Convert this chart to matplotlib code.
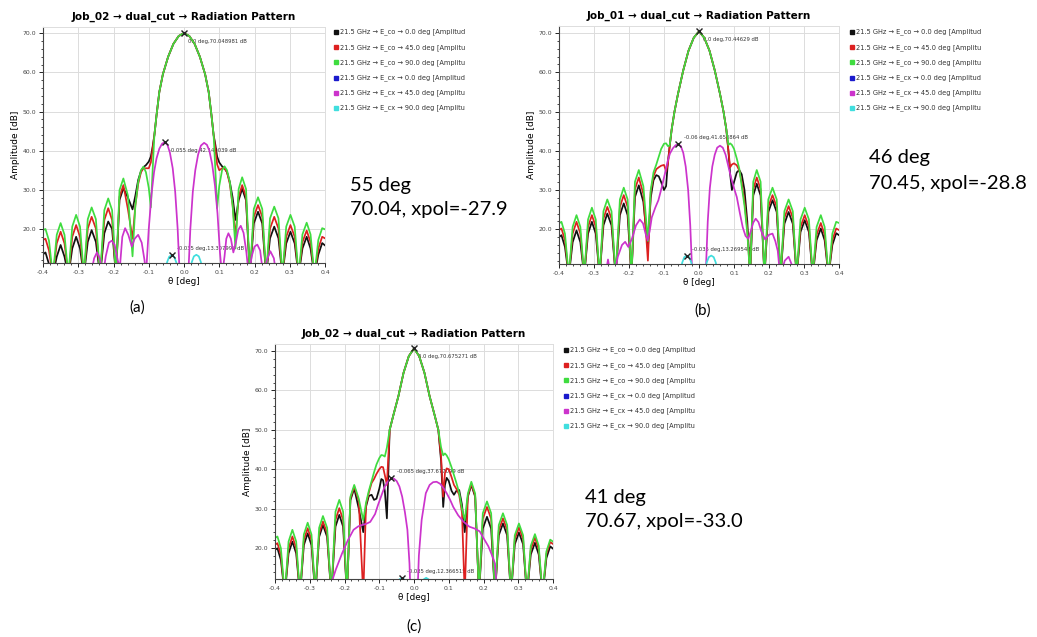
import matplotlib
matplotlib.use("Agg")
import matplotlib.pyplot as plt
from matplotlib.lines import Line2D
from matplotlib.ticker import MultipleLocator, FormatStrFormatter

W, H = 1037, 637

# ---- co-polar cuts: one theta grid [deg], amplitude [dB] per job ----
theta_co = [-0.400, -0.393, -0.383, -0.372, -0.361, -0.350, -0.339, -0.328, -0.317, -0.306,
            -0.295, -0.284, -0.273, -0.262, -0.250, -0.238, -0.226, -0.215, -0.204, -0.193,
            -0.183, -0.172, -0.159, -0.146,
            -0.138, -0.130, -0.122, -0.115, -0.108, -0.100, -0.094, -0.089, -0.084, -0.078,
            -0.070, -0.060, -0.045, -0.030, -0.015,
            0.000,
            0.015, 0.030, 0.045, 0.060, 0.070, 0.078, 0.084, 0.089, 0.094, 0.100,
            0.108, 0.115, 0.122, 0.130, 0.138,
            0.146, 0.155, 0.165, 0.176, 0.187, 0.198, 0.210, 0.222, 0.233, 0.244,
            0.256, 0.268, 0.279, 0.290, 0.302, 0.314, 0.325, 0.336, 0.348, 0.359,
            0.370, 0.381, 0.392, 0.400]

# (a) 55 deg
a_co_0 = [13.5, 14.0, 11.0, 8, 12.9, 15.9, 12.9, 8, 15.0, 18.0,
          15.0, 8, 16.7, 19.7, 16.7, 8, 18.9, 21.9, 20.0, 8,
          27.4, 30.4, 28.0, 25.0,
          28.5, 32.5, 34.8, 35.8, 36.3, 37.2, 38.5, 41.0, 44.0, 49.0,
          55.0, 59.5, 64.0, 67.3, 69.3,
          70.05,
          69.3, 67.3, 64.0, 59.5, 55.0, 49.0, 44.0, 41.5, 38.5, 37.0,
          36.0, 35.5, 34.5, 32.0, 28.0,
          22.3, 27.3, 30.3, 27.3, 8, 21.4, 24.4, 21.4, 8, 17.6,
          20.6, 17.6, 8, 16.3, 19.3, 16.3, 8, 15.0, 18.0, 15.0,
          8, 13.4, 16.4, 15.8]
a_co_45 = [17.2, 17.5, 14.5, 8, 16.3, 19.3, 16.3, 8, 18.0, 21.0,
           18.0, 8, 20.1, 23.1, 20.1, 8, 22.3, 25.3, 22.3, 8,
           28.2, 31.2, 25.0, 17.5,
           26.0, 31.5, 34.5, 35.5, 35.5, 35.5, 37.0, 40.5, 44.0, 49.0,
           55.0, 59.5, 64.0, 67.3, 69.3,
           70.05,
           69.3, 67.3, 64.0, 59.5, 55.0, 49.0, 44.0, 40.5, 36.5, 35.0,
           35.5, 35.5, 34.5, 31.5, 26.0,
           18.0, 28.2, 31.2, 28.2, 8, 23.1, 26.1, 23.1, 8, 20.1,
           23.1, 20.1, 8, 18.0, 21.0, 18.0, 8, 16.6, 19.6, 16.6,
           8, 15.0, 18.0, 17.6]
a_co_90 = [19.7, 20.0, 17.0, 8, 18.5, 21.5, 18.5, 8, 20.6, 23.6,
           20.6, 8, 22.5, 25.5, 22.5, 8, 24.8, 27.8, 24.8, 8,
           29.9, 32.9, 28.5, 13.0,
           26.0, 32.0, 35.0, 35.9, 34.5, 30.5, 25.5, 35.0, 44.0, 49.0,
           55.0, 59.5, 64.0, 67.3, 69.3,
           70.05,
           69.3, 67.3, 64.0, 59.5, 55.0, 49.0, 44.0, 35.0, 25.3, 31.0,
           35.0, 36.0, 35.0, 32.0, 26.0,
           15.0, 30.2, 33.2, 30.2, 8, 25.1, 28.1, 25.1, 8, 22.7,
           25.7, 22.7, 8, 20.6, 23.6, 20.6, 8, 18.6, 21.6, 18.6,
           8, 17.2, 20.2, 19.9]

# (b) 46 deg
b_co_0 = [18.0, 18.5, 15.5, 8, 16.7, 19.7, 16.7, 8, 18.9, 21.9,
          18.9, 8, 21.0, 24.0, 21.0, 8, 23.6, 26.6, 23.6, 8,
          28.2, 31.2, 27.0, 15.0,
          28.0, 32.5, 33.8, 33.5, 32.0, 30.0, 31.0, 37.0, 41.0, 45.5,
          50.0, 54.5, 60.5, 65.5, 68.8,
          70.45,
          68.8, 65.5, 60.5, 54.5, 50.0, 45.5, 40.0, 34.0, 30.0, 32.0,
          34.5, 35.1, 34.0, 30.0, 22.0,
          8, 28.6, 31.6, 28.6, 8, 24.4, 27.4, 24.4, 8, 21.4,
          24.4, 21.4, 8, 19.3, 22.3, 19.3, 8, 17.2, 20.2, 17.2,
          8, 16.0, 19.0, 18.5]
b_co_45 = [19.8, 20.2, 17.2, 8, 18.9, 21.9, 18.9, 8, 20.6, 23.6,
           20.6, 8, 22.7, 25.7, 22.7, 8, 25.7, 28.7, 25.7, 8,
           30.2, 33.2, 29.0, 12.0,
           29.5, 33.5, 35.3, 35.8, 36.2, 36.4, 34.8, 36.5, 41.0, 45.5,
           50.0, 54.5, 60.5, 65.5, 68.8,
           70.45,
           68.8, 65.5, 60.5, 54.5, 50.0, 45.5, 40.0, 35.8, 36.5, 36.8,
           36.3, 35.0, 32.0, 27.0, 20.0,
           8, 30.2, 33.2, 30.2, 8, 25.7, 28.7, 25.7, 8, 22.9,
           25.9, 22.9, 8, 20.6, 23.6, 20.6, 8, 18.6, 21.6, 18.6,
           8, 17.2, 20.2, 19.8]
b_co_90 = [21.5, 21.9, 18.9, 8, 20.6, 23.6, 20.6, 8, 22.5, 25.5,
           22.5, 8, 24.6, 27.6, 24.6, 8, 27.6, 30.6, 27.6, 8,
           32.1, 35.1, 31.0, 17.0,
           30.0, 34.5, 36.5, 38.5, 40.5, 41.8, 41.9, 41.2, 41.3, 45.5,
           50.0, 54.5, 60.5, 65.5, 68.8,
           70.45,
           68.8, 65.5, 60.5, 54.5, 50.0, 45.5, 41.5, 41.9, 41.5, 40.5,
           38.0, 35.5, 31.0, 26.0, 19.0,
           8, 32.1, 35.1, 32.1, 8, 27.6, 30.6, 27.6, 8, 24.6,
           27.6, 24.6, 8, 22.5, 25.5, 22.5, 8, 20.6, 23.6, 20.6,
           8, 18.9, 21.9, 21.6]

# (c) 41 deg
c_co_0 = [19.5, 19.9, 16.9, 8, 18.6, 21.6, 18.6, 8, 20.7, 23.7,
          20.7, 8, 22.8, 25.8, 22.8, 8, 25.4, 28.4, 25.4, 8,
          32.1, 35.1, 30.0, 24.0,
          30.5, 33.2, 33.5, 32.2, 32.5, 35.0, 37.5, 37.2, 34.5, 27.5,
          50.0, 53.5, 58.5, 64.5, 68.7,
          70.68,
          68.7, 64.5, 58.5, 53.5, 50.0, 42.0, 30.4, 36.0, 37.8, 37.0,
          34.5, 33.5, 34.5, 34.7, 31.0,
          24.0, 33.0, 36.0, 33.0, 8, 24.9, 27.9, 24.9, 8, 23.2,
          26.2, 23.2, 8, 20.9, 23.9, 20.9, 8, 18.3, 21.3, 18.3,
          8, 17.4, 20.4, 19.8]
c_co_45 = [20.8, 21.2, 18.2, 8, 19.9, 22.9, 19.9, 8, 22.0, 25.0,
           22.0, 8, 23.7, 26.7, 23.7, 8, 27.1, 30.1, 27.1, 8,
           32.6, 35.6, 32.0, 8,
           31.0, 34.0, 36.5, 37.5, 38.8, 40.0, 40.6, 40.5, 38.5, 36.0,
           50.0, 53.5, 58.5, 64.5, 68.7,
           70.68,
           68.7, 64.5, 58.5, 53.5, 50.0, 43.0, 33.0, 39.0, 40.2, 40.0,
           38.0, 36.0, 35.0, 33.5, 29.0,
           8, 33.3, 36.3, 33.3, 8, 27.4, 30.4, 27.4, 8, 24.5,
           27.5, 24.5, 8, 22.2, 25.2, 22.2, 8, 19.6, 22.6, 19.6,
           8, 18.5, 21.5, 21.0]
c_co_90 = [22.5, 22.9, 19.9, 8, 21.6, 24.6, 21.6, 8, 23.4, 26.4,
           23.4, 8, 25.1, 28.1, 25.1, 8, 29.2, 32.2, 29.2, 8,
           33.0, 36.0, 32.5, 27.0,
           31.5, 34.5, 37.0, 39.2, 41.2, 42.8, 43.6, 43.5, 43.2, 45.5,
           50.0, 53.5, 58.5, 64.5, 68.7,
           70.68,
           68.7, 64.5, 58.5, 53.5, 50.0, 45.5, 43.5, 44.0, 43.5, 42.5,
           40.5, 38.5, 36.5, 34.0, 30.0,
           27.0, 33.8, 36.8, 33.8, 8, 28.8, 31.8, 28.8, 8, 25.8,
           28.8, 25.8, 8, 23.2, 26.2, 23.2, 8, 20.5, 23.5, 20.5,
           8, 19.1, 22.1, 21.6]

# ---- cross-polar cut, 45 deg ----
a_cx_theta = [-0.265, -0.255, -0.247, -0.239, -0.230, -0.222, -0.213, -0.205, -0.197, -0.188,
              -0.182, -0.175, -0.167, -0.158, -0.148, -0.140, -0.130, -0.120, -0.112, -0.108,
              -0.100, -0.092, -0.085, -0.078, -0.070, -0.062, -0.055, -0.047, -0.040, -0.032,
              -0.025, -0.018, -0.012, 0.000, 0.012, 0.018, 0.025, 0.032, 0.040, 0.048,
              0.057, 0.065, 0.072, 0.080, 0.088, 0.095, 0.102, 0.108, 0.115, 0.120,
              0.126, 0.133, 0.140, 0.147, 0.154, 0.161, 0.169, 0.177, 0.184, 0.192,
              0.200, 0.208, 0.216, 0.225, 0.235, 0.245, 0.255, 0.262]
a_cx_45 = [8, 12.5, 14, 12.5, 8, 13, 16.5, 17, 16, 12,
           10, 18, 20.2, 18.5, 15.5, 17.5, 18.5, 16.5, 12, 8,
           20, 29, 34.5, 38, 40.5, 41.8, 42.15, 41.5, 39.5, 35.5,
           29.5, 20, 8, 5, 8, 20, 29.5, 35, 39, 41.3,
           42, 41.5, 40, 36.5, 31, 24, 14, 8, 13, 17.5,
           18.9, 17.5, 14, 16.5, 19.8, 20.8, 19, 14, 8, 13,
           15.5, 16, 14.5, 8, 12, 14.3, 12.5, 8]

b_cx_theta = [-0.268, -0.260, -0.252, -0.243, -0.232, -0.220, -0.211, -0.202, -0.192, -0.180,
              -0.169, -0.160, -0.153, -0.147, -0.141, -0.135, -0.125, -0.116, -0.107, -0.097,
              -0.090, -0.083, -0.075, -0.067, -0.060, -0.052, -0.045, -0.038, -0.031, -0.025,
              -0.019, 0.000, 0.019, 0.025, 0.031, 0.038, 0.045, 0.052, 0.060, 0.068,
              0.076, 0.084, 0.092, 0.100, 0.108, 0.117, 0.125, 0.133, 0.141, 0.148,
              0.155, 0.162, 0.170, 0.178, 0.189, 0.200, 0.210, 0.218, 0.225, 0.232,
              0.245, 0.256, 0.265, 0.272]
b_cx_45 = [8, 12.3, 8, 8, 13, 16, 16.8, 15.5, 17.5, 21,
           22.5, 21.5, 19, 17.2, 19.5, 23, 25.5, 27.4, 30.5, 34.3,
           37.2, 39.3, 40.6, 41.4, 41.65, 41.2, 39.5, 36, 30, 21,
           8, 5, 8, 22, 30.5, 36, 39, 40.8, 41.3, 40.8,
           39, 36, 33, 30.5, 28.2, 24, 20.5, 18.3, 17.6, 19.5,
           21.7, 22.7, 21.8, 19.5, 17.4, 18.6, 18.9, 17, 14.5, 8,
           12, 13, 11, 8]

c_cx_theta = [-0.240, -0.236, -0.225, -0.207, -0.190, -0.174, -0.160, -0.150, -0.138, -0.126,
              -0.112, -0.104, -0.095, -0.085, -0.076, -0.065, -0.058, -0.050, -0.042, -0.034,
              -0.026, -0.019, -0.013, -0.010, 0.000, 0.010, 0.014, 0.022, 0.034, 0.045,
              0.055, 0.065, 0.075, 0.085, 0.094, 0.104, 0.113, 0.127, 0.142, 0.159,
              0.175, 0.189, 0.200, 0.214, 0.225, 0.233, 0.240]
c_cx_45 = [8, 11.5, 14.5, 18.6, 22, 24.6, 25.5, 25.8, 26.1, 26.6,
           28.6, 30.8, 33, 35.4, 36.8, 37.68, 37.6, 37, 35.6, 33,
           29, 24.6, 16, 8, 5, 8, 18, 27.1, 33.9, 36,
           36.7, 36.8, 36.3, 35.2, 33.9, 32.2, 30.4, 28.3, 26.7, 25.4,
           24.9, 24.2, 22.5, 20.4, 18, 16, 8]

# ---- cross-polar cut, 90 deg (only the tips near boresight rise into view) ----
cx90_theta = [-0.055, -0.048, -0.042, -0.035, -0.028, -0.022, -0.015, 0.000,
              0.015, 0.022, 0.028, 0.035, 0.042, 0.048, 0.055]
a_cx_90 = [8, 11.5, 12.9, 13.31, 12.9, 11.5, 8, 5, 8, 11.5, 13.0, 13.4, 13.0, 11.5, 8]
b_cx_90 = [8, 11.5, 12.9, 13.27, 12.9, 11.5, 8, 5, 8, 11.5, 12.9, 13.3, 12.9, 11.5, 8]
c_cx_90 = [8, 10.8, 12.0, 12.37, 12.0, 10.8, 8, 5, 8, 10.8, 12.0, 12.4, 12.0, 10.8, 8]

# ---- markers placed on each plot ----
a_mark_theta = [0.0, -0.055, -0.035]
a_mark_db = [70.048981, 42.149039, 13.307994]
b_mark_theta = [0.0, -0.06, -0.035]
b_mark_db = [70.44629, 41.653864, 13.269548]
c_mark_theta = [0.0, -0.065, -0.035]
c_mark_db = [70.675271, 37.677099, 12.366515]

legend_labels = ["21.5 GHz → E_co → 0.0 deg [Amplitud",
                 "21.5 GHz → E_co → 45.0 deg [Amplitu",
                 "21.5 GHz → E_co → 90.0 deg [Amplitu",
                 "21.5 GHz → E_cx → 0.0 deg [Amplitud",
                 "21.5 GHz → E_cx → 45.0 deg [Amplitu",
                 "21.5 GHz → E_cx → 90.0 deg [Amplitu"]
colors = ["#111111", "#dd2020", "#3fdc3f", "#1a1acc", "#cc33cc", "#40dede"]

titles = ["Job_02 → dual_cut → Radiation Pattern",
          "Job_01 → dual_cut → Radiation Pattern",
          "Job_02 → dual_cut → Radiation Pattern"]
note_angle = ["55 deg", "46 deg", "41 deg"]
note_result = ["70.04, xpol=-27.9", "70.45, xpol=-28.8", "70.67, xpol=-33.0"]
tags = ["(a)", "(b)", "(c)"]

xticks = [-0.4, -0.3, -0.2, -0.1, 0.0, 0.1, 0.2, 0.3, 0.4]
yticks = [20, 30, 40, 50, 60, 70]

panels = [
    dict(rect=(43, 27, 325, 263), ylim=(11.3, 71.6),
         co=(a_co_0, a_co_45, a_co_90), cx=(a_cx_theta, a_cx_45), cx90=a_cx_90,
         marks=(a_mark_theta, a_mark_db), side=("below", "below", "above"),
         legend=(336, 32), note=(350, 185), tag=(137, 308)),
    dict(rect=(559, 26, 839, 264), ylim=(11.15, 71.8),
         co=(b_co_0, b_co_45, b_co_90), cx=(b_cx_theta, b_cx_45), cx90=b_cx_90,
         marks=(b_mark_theta, b_mark_db), side=("below", "above", "above"),
         legend=(852, 32), note=(869, 158), tag=(703, 311)),
    dict(rect=(275, 344, 553, 579), ylim=(12.1, 71.8),
         co=(c_co_0, c_co_45, c_co_90), cx=(c_cx_theta, c_cx_45), cx90=c_cx_90,
         marks=(c_mark_theta, c_mark_db), side=("below", "above", "above"),
         legend=(566, 350), note=(585, 497), tag=(414, 627)),
]

fig = plt.figure(figsize=(W / 100, H / 100), dpi=100)
fig.patch.set_facecolor("white")


def fx(px):
    return px / W


def fy(py):
    return 1 - py / H


for i, p in enumerate(panels):
    l, t, r, b = p["rect"]
    ax = fig.add_axes([fx(l), fy(b), (r - l) / W, (b - t) / H])

    for vals, col in zip(p["co"], colors[:3]):
        ax.plot(theta_co, vals, color=col, lw=1.25)
    ax.plot(p["cx"][0], p["cx"][1], color=colors[4], lw=1.25)
    ax.plot(cx90_theta, p["cx90"], color=colors[5], lw=1.25)

    mt, md = p["marks"]
    ax.plot(mt, md, "x", color="#222222", ms=5, mew=1.0, zorder=5)
    for t_, v_, s_ in zip(mt, md, p["side"]):
        if s_ == "below":
            off, va = (3, -4), "top"
        else:
            off, va = (4, 3), "bottom"
        ax.annotate(f"{t_} deg,{v_} dB", (t_, v_), xytext=off, textcoords="offset points",
                    fontsize=3.8, color="#333333", va=va, ha="left", zorder=1)

    ax.set_xlim(-0.4, 0.4)
    ax.set_ylim(*p["ylim"])
    ax.set_xticks(xticks)
    ax.set_yticks(yticks)
    ax.xaxis.set_major_formatter(FormatStrFormatter("%.1f"))
    ax.yaxis.set_major_formatter(FormatStrFormatter("%.1f"))
    ax.xaxis.set_minor_locator(MultipleLocator(0.02))
    ax.yaxis.set_minor_locator(MultipleLocator(2))
    ax.tick_params(which="major", labelsize=4.4, labelcolor="#444444", length=3, width=0.6, pad=2)
    ax.tick_params(which="minor", length=1.5, width=0.5)
    ax.grid(True, which="major", color="#dcdcdc", lw=0.7)
    ax.set_axisbelow(True)
    for side in ("top", "right"):
        ax.spines[side].set_color("#dddddd")
        ax.spines[side].set_linewidth(0.7)
    for side in ("left", "bottom"):
        ax.spines[side].set_color("#444444")
        ax.spines[side].set_linewidth(0.8)

    ax.set_title(titles[i], fontsize=7.5, fontweight="bold", pad=5)
    ax.set_xlabel("θ [deg]", fontsize=6.3, labelpad=1.5)
    ax.set_ylabel("Amplitude [dB]", fontsize=6.5, labelpad=2)

    # legend column to the right of the plot
    lx, ly = p["legend"]
    for k, (lab, col) in enumerate(zip(legend_labels, colors)):
        yy = ly + k * 15.2
        fig.add_artist(Line2D([fx(lx)], [fy(yy)], marker="s", ms=2.8, color=col, ls="",
                              transform=fig.transFigure))
        fig.text(fx(lx + 4), fy(yy), lab, fontsize=4.8, color="#333333", va="center")

    nx, ny = p["note"]
    fig.text(fx(nx), fy(ny), note_angle[i], fontsize=14.5, family=["Lato", "DejaVu Sans"],
             va="center", ha="left")
    fig.text(fx(nx), fy(ny + 25), note_result[i], fontsize=14.5, family=["Lato", "DejaVu Sans"],
             va="center", ha="left")

    tx, ty = p["tag"]
    fig.text(fx(tx), fy(ty), tags[i], fontsize=11, family=["Lato", "DejaVu Sans"],
             va="center", ha="center")

fig.savefig("out.png", dpi=100)
